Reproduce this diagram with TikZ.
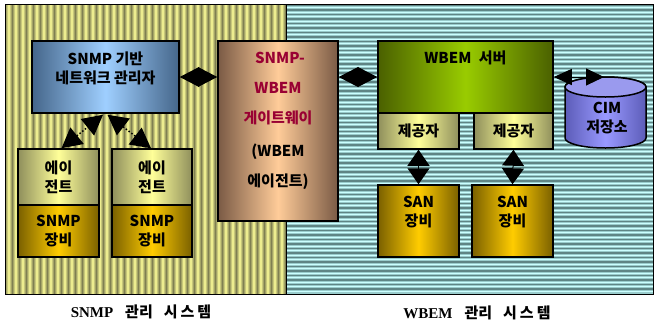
\documentclass[tikz,border=0pt]{standalone}
\usepackage{fontspec}
\setmainfont{Noto Sans CJK KR}
\newfontfamily\lserif{Liberation Serif}
\usetikzlibrary{arrows.meta,calc}
\definecolor{mgrE}{HTML}{45668A}
\definecolor{mgrC}{HTML}{9FCFFF}
\definecolor{gwE}{HTML}{7A5A45}
\definecolor{gwC}{HTML}{FFCC99}
\definecolor{srvE}{HTML}{4A6000}
\definecolor{srvC}{HTML}{99CC00}
\definecolor{pvE}{HTML}{8F8F5C}
\definecolor{pvC}{HTML}{FFFF99}
\definecolor{dvE}{HTML}{7A6000}
\definecolor{dvC}{HTML}{FFCC00}
\definecolor{cyE}{HTML}{5C5CB8}
\definecolor{cyC}{HTML}{9999FF}
\definecolor{cyT}{HTML}{9A9AEE}
\definecolor{gwred}{HTML}{990033}
\definecolor{ylE}{HTML}{7F7F52}
\definecolor{ylC}{HTML}{FFFF99}
\definecolor{cnB}{HTML}{99CCCC}
\definecolor{cnE}{HTML}{5F8585}
\definecolor{cnC}{HTML}{CCFFFF}
\tikzset{
  box/.style={draw=black, line width=1.5pt, inner sep=0pt, align=center,
    font=\bfseries\fontsize{15}{19}\selectfont},
  grad/.style 2 args={left color=#1, right color=#1, middle color=#2},
  lbl/.style={inner sep=0pt, align=center, font=\bfseries\fontsize{15}{19}\selectfont},
  dia/.style={line width=1pt, {Triangle[length=19.5pt,width=20pt]}-{Triangle[length=19.5pt,width=20pt]}},
  vdia/.style={line width=1pt, {Triangle[length=16pt,width=22pt]}-{Triangle[length=16pt,width=22pt]}},
  dotarr/.style={line width=1.5pt, dotted, {Triangle[length=20pt,width=21pt]}-{Triangle[length=20pt,width=21pt]}},
  cimarr/.style={line width=1pt, {Triangle[length=18pt,width=16pt]}-{Triangle[length=18pt,width=17pt]}},
  bottom/.style={inner sep=0pt, font=\bfseries\fontsize{15}{18}\selectfont}
}
\begin{document}
\begin{tikzpicture}[x=1pt,y=-1pt]
\useasboundingbox[fill=white] (0,0) rectangle (656,322);
% left panel stripes
\foreach \i in {0,...,39} {
  \shade[left color=ylE, right color=ylE, middle color=ylC] (5+\i*7,4) rectangle (12+\i*7,294);
}
\shade[left color=ylE, right color=ylE, middle color=ylC] (285,4) rectangle (286,294);
% right panel stripes
\fill[cnB] (286,4) rectangle (653,294);
\foreach \j in {0,...,63} {
  \fill[cnE] (286,4.5+\j*4.5) rectangle (653,6.3+\j*4.5);
  \fill[cnC] (286,7.2+\j*4.5) rectangle (653,8.1+\j*4.5);
}
\draw[line width=1pt] (5,4) rectangle (653,294);
\draw[line width=1pt] (286,4) -- (286,294);

% boxes
\node[box, grad={mgrE}{mgrC}, minimum width=147pt, minimum height=72pt] (mgr) at (105.5,77) {};
\node[lbl] (mgrt) at (105.5,68.5) {SNMP 기반\\네트워크 관리자};

\node[box, grad={gwE}{gwC}, minimum width=120pt, minimum height=180pt] (gw) at (278,131) {};
\node[lbl, text=gwred] (gw1) at (280,58) {SNMP-};
\node[lbl, text=gwred] (gw2) at (278,88) {WBEM};
\node[lbl, text=gwred] (gw3) at (278,118) {게이트웨이};
\node[lbl] (gw4) at (278,152) {(WBEM};
\node[lbl] (gw5) at (278,182) {에이전트)};

\node[box, grad={srvE}{srvC}, minimum width=175pt, minimum height=72pt] (srv) at (465.5,77) {};
\node[lbl] (srvt) at (465.5,58) {WBEM\hspace{4pt} 서버};

\node[box, grad={pvE}{pvC}, minimum width=81pt, minimum height=36pt] (pv1) at (418.5,131) {제공자};
\node[box, grad={pvE}{pvC}, minimum width=79pt, minimum height=36pt] (pv2) at (513.5,131) {제공자};

\node[box, grad={dvE}{dvC}, minimum width=81pt, minimum height=72pt] (san1) at (418.5,221) {};
\node[lbl] (san1t) at (418.5,212.5) {SAN\\장비};
\node[box, grad={dvE}{dvC}, minimum width=81pt, minimum height=72pt] (san2) at (512.5,221) {};
\node[lbl] (san2t) at (512.5,212.5) {SAN\\장비};

\node[box, grad={pvE}{pvC}, minimum width=81pt, minimum height=56pt] (ag1) at (58.5,177) {에이\\전트};
\node[box, grad={dvE}{dvC}, minimum width=81pt, minimum height=52pt] (dv1) at (58.5,231) {SNMP\\장비};
\node[box, grad={pvE}{pvC}, minimum width=80pt, minimum height=56pt] (ag2) at (152,177) {에이\\전트};
\node[box, grad={dvE}{dvC}, minimum width=80pt, minimum height=52pt] (dv2) at (152,231) {SNMP\\장비};

% cylinder
\shade[left color=cyE, right color=cyE, middle color=cyC, draw=black, line width=1.5pt]
  (565,87) -- (565,138) arc[start angle=180, end angle=360, x radius=40.5pt, y radius=10pt]
  -- (646,87) arc[start angle=0, end angle=180, x radius=40.5pt, y radius=10pt] -- cycle;
\filldraw[fill=cyT, draw=black, line width=1.5pt] (605.5,87) ellipse [x radius=40.5pt, y radius=10pt];
\node[lbl] (cim) at (607,118) {CIM\\저장소};
\coordinate (cimtop) at (604,77);

% connectors
\draw[dia] (mgr.east) -- (mgr.east -| gw.west);
\draw[dia] (srv.west -| gw.east) -- (srv.west);
\draw[cimarr] (srv.east) -- (cimtop);
\draw[vdia] (pv1.south) -- (san1.north);
\draw[vdia] (pv2.south) -- (san2.north);
\draw[dotarr] ($(ag1.north)+(3,0)$) -- ($(mgr.south)+(-2.5,1)$);
\draw[dotarr] ($(mgr.south)+(2,1)$) -- ($(ag2.north)+(-1,0)$);

% bottom labels
\node[bottom] (lsnmp) at (141,312) {{\lserif SNMP}\hspace{12pt}관리\hspace{11pt}시\hspace{3pt}스\hspace{3pt}템};
\node[bottom] (lwbem) at (477,313) {{\lserif WBEM}\hspace{12pt}관리\hspace{11pt}시\hspace{3pt}스\hspace{3pt}템};
\end{tikzpicture}
\end{document}
